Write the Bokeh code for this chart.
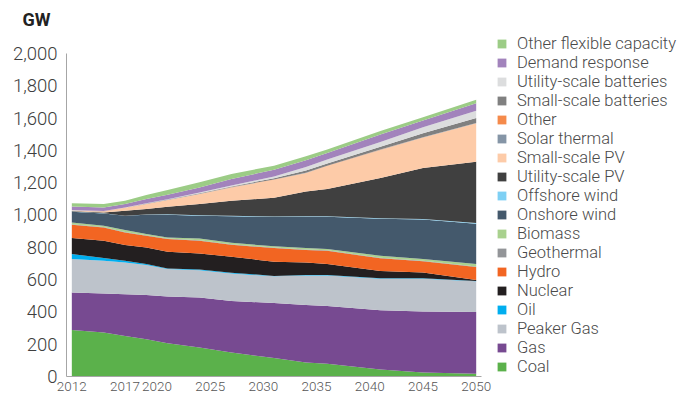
from bokeh.plotting import figure
from bokeh.models import (ColumnDataSource, Range1d, FixedTicker, NumeralTickFormatter,
                          Legend, LegendItem)
from bokeh.embed import file_html
from bokeh.resources import INLINE

years = [2012, 2015, 2017, 2019, 2021, 2024, 2027, 2031, 2034, 2036, 2041, 2045, 2050]

coal      = [288, 272, 251, 231, 206, 179, 148, 115, 86, 79, 44, 24, 17]
gas       = [232, 242, 259, 274, 289, 310, 320, 340, 357, 358, 366, 378, 383]
peaker    = [207, 202, 196, 186, 170, 169, 170, 165, 183, 189, 196, 204, 190]
oil       = [31, 17, 10, 5, 4, 4, 5, 3, 3, 3, 3, 3, 2]
nuclear   = [99, 107, 99, 103, 103, 100, 98, 88, 77, 67, 45, 35, 6]
hydro     = [83, 83, 77, 72, 79, 78, 75, 84, 78, 82, 78, 70, 80]
geothermal = [3, 3, 3, 3, 3, 3, 3, 3, 3, 3, 3, 3, 3]
biomass   = [11, 7, 12, 8, 7, 12, 9, 8, 8, 8, 12, 10, 15]
onshore   = [66, 77, 88, 119, 140, 140, 164, 181, 194, 200, 230, 245, 250]
offshore  = [1, 1, 1, 2, 3, 3, 3, 3, 3, 3, 3, 3, 4]
util_pv   = [3, 5, 30, 34, 47, 70, 93, 117, 153, 169, 249, 316, 379]
small_pv  = [4, 6, 17, 31, 42, 62, 83, 111, 115, 142, 174, 189, 239]
solar_th  = [1, 1, 1, 1, 1, 1, 1, 1, 1, 1, 1, 1, 1]
other     = [1, 1, 1, 1, 1, 1, 1, 1, 1, 1, 1, 1, 1]
small_bat = [0, 0, 0, 1, 1, 3, 4, 8, 13, 14, 17, 24, 31]
util_bat  = [1, 1, 1, 1, 2, 5, 6, 10, 22, 25, 30, 37, 45]
demand    = [22, 22, 22, 27, 28, 31, 40, 42, 42, 40, 46, 42, 46]
flex      = [19, 21, 20, 25, 29, 31, 31, 25, 25, 22, 22, 20, 21]

series = [
    ("Coal", coal, "#5BB14B"),
    ("Gas", gas, "#774A91"),
    ("Peaker Gas", peaker, "#BDC3CB"),
    ("Oil", oil, "#00AEEF"),
    ("Nuclear", nuclear, "#231F20"),
    ("Hydro", hydro, "#F26522"),
    ("Geothermal", geothermal, "#939598"),
    ("Biomass", biomass, "#A9D18E"),
    ("Onshore wind", onshore, "#44596C"),
    ("Offshore wind", offshore, "#7ED0F4"),
    ("Utility-scale PV", util_pv, "#404040"),
    ("Small-scale PV", small_pv, "#FDCBA8"),
    ("Solar thermal", solar_th, "#8595A6"),
    ("Other", other, "#F58A4B"),
    ("Small-scale batteries", small_bat, "#808080"),
    ("Utility-scale batteries", util_bat, "#DCDDDE"),
    ("Demand response", demand, "#A283BC"),
    ("Other flexible capacity", flex, "#9CCC86"),
]

x_ticks = [2012, 2017, 2020, 2025, 2030, 2035, 2040, 2045, 2050]
y_ticks = [0, 200, 400, 600, 800, 1000, 1200, 1400, 1600, 1800, 2000]

LIGHT = "Roboto Light, Roboto"

data = {"year": years}
keys = []
for i, (name, vals, col) in enumerate(series):
    k = "s%d" % i
    data[k] = vals
    keys.append(k)
source = ColumnDataSource(data)

# frame spans plot area plus the empty legend area on the right / above
p = figure(frame_width=612, frame_height=343, output_backend="svg", toolbar_location=None,
           x_range=Range1d(2011.5, 2069.01), y_range=Range1d(0, 2123.8),
           min_border_left=66, min_border_right=0, min_border_top=33,
           min_border_bottom=24)
p.outline_line_color = None
p.xgrid.visible = False
p.ygrid.visible = False
p.background_fill_color = "white"

renderers = p.varea_stack(stackers=keys, x="year", source=source,
                          color=[s[2] for s in series])

p.xaxis.ticker = FixedTicker(ticks=x_ticks)
p.yaxis.ticker = FixedTicker(ticks=y_ticks)
p.xaxis.bounds = (2011.5, 2050.5)
p.yaxis.bounds = (0, 2000)
p.yaxis.formatter = NumeralTickFormatter(format="0,0")
for ax in (p.xaxis, p.yaxis):
    ax.axis_line_color = "#A6A6A6"
    ax.axis_line_width = 1
    ax.major_tick_line_color = None
    ax.minor_tick_line_color = None
    ax.major_tick_out = 0
    ax.major_tick_in = 0
    ax.major_label_text_font = LIGHT
p.yaxis.major_label_text_font_size = "18.5px"
p.yaxis.major_label_text_color = "#3f3f3f"
p.yaxis.major_label_standoff = 9
p.xaxis.major_label_text_font_size = "13.5px"
p.xaxis.major_label_text_color = "#555555"
p.xaxis.major_label_standoff = 5

items = [LegendItem(label=series[i][0], renderers=[renderers[i]])
         for i in range(len(series) - 1, -1, -1)]
legend = Legend(items=items, location=(430, 0), orientation="vertical",
                border_line_color=None, background_fill_alpha=0,
                padding=0, margin=0, spacing=0,
                glyph_width=11, glyph_height=11, label_standoff=10,
                label_height=19, label_text_font=LIGHT,
                label_text_font_size="16.5px", label_text_color="#4a4a4a")
p.add_layout(legend, "center")

p.title.text = "GW"
p.title.align = "left"
p.title.offset = -44
p.title.standoff = 7
p.title.text_font = "Roboto"
p.title.text_font_size = "18px"
p.title.text_font_style = "bold"
p.title.text_color = "#222222"

open("out.html", "w").write(file_html(p, INLINE))
